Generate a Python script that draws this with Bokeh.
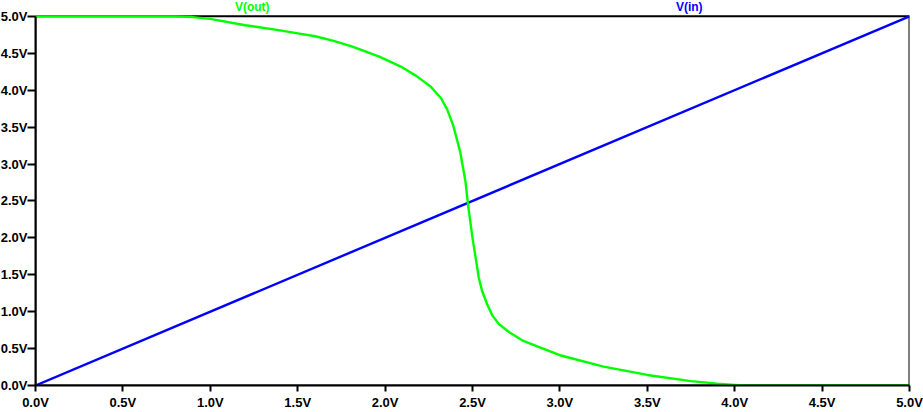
from bokeh.plotting import figure
from bokeh.models import Range1d, FixedTicker, PrintfTickFormatter, BoxAnnotation, ColumnDataSource
from bokeh.core.properties import value
from bokeh.embed import file_html
from bokeh.resources import INLINE

# Data (DC sweep of an inverter)
vin_sweep = [0.0, 5.0]
vin_values = [0.0, 5.0]

vout_x = [0.0, 0.5, 0.8, 0.9, 1.0, 1.2, 1.4, 1.5, 1.6, 1.7, 1.8, 1.86, 1.97,
          2.09, 2.18, 2.26, 2.32, 2.355, 2.39, 2.43, 2.46, 2.475, 2.50, 2.536,
          2.555, 2.584, 2.613, 2.65, 2.708, 2.784, 2.87, 3.0, 3.25, 3.5, 3.75,
          3.9, 4.0, 4.05, 4.5, 5.0]
vout_y = [5.0, 5.0, 5.0, 4.99, 4.965, 4.88, 4.81, 4.77, 4.73, 4.67, 4.60, 4.55,
          4.45, 4.32, 4.19, 4.05, 3.89, 3.74, 3.52, 3.16, 2.76, 2.44, 2.0,
          1.46, 1.28, 1.10, 0.95, 0.835, 0.724, 0.612, 0.53, 0.41, 0.255,
          0.143, 0.06, 0.025, 0.008, 0.0, 0.0, 0.0]

tick_values = [0.0, 0.5, 1.0, 1.5, 2.0, 2.5, 3.0, 3.5, 4.0, 4.5, 5.0]
axis_min = 0.0
axis_max = 5.0
trace_names = ["V(out)", "V(in)"]
trace_label_x = [1.24, 3.74]
trace_colors = ["#00ff00", "#0000ff"]

# extra headroom above the 5.0V frame line so that the trace names fit
headroom = 16 / 74.6

p = figure(width=926, height=412, output_backend="svg", toolbar_location=None,
           x_range=Range1d(axis_min, axis_max),
           y_range=Range1d(axis_min, axis_max + headroom),
           min_border_left=35, min_border_right=14, min_border_top=0,
           min_border_bottom=23)
p.styles = {"position": "absolute", "left": "-3px", "top": "0px"}
p.background_fill_color = "white"
p.border_fill_color = "white"
p.grid.visible = False
p.outline_line_color = None

for ax in (p.xaxis[0], p.yaxis[0]):
    ax.ticker = FixedTicker(ticks=tick_values)
    ax.formatter = PrintfTickFormatter(format="%.1fV")
    ax.bounds = (axis_min, axis_max)
    ax.axis_line_color = "black"
    ax.axis_line_width = 2
    ax.major_tick_line_color = "black"
    ax.major_tick_line_width = 2
    ax.minor_tick_line_color = None
    ax.major_tick_in = 0
    ax.major_label_text_font = "Liberation Sans"
    ax.major_label_text_font_style = "bold"
    ax.major_label_text_font_size = "13px"
    ax.major_label_text_color = "black"

p.xaxis[0].major_tick_out = 6
p.xaxis[0].major_label_standoff = 3
p.yaxis[0].major_tick_out = 8
p.yaxis[0].major_label_standoff = 0

# plot frame box from 0..5 V on both axes
p.add_layout(BoxAnnotation(left=axis_min, right=axis_max, bottom=axis_min, top=axis_max,
                           fill_alpha=0, line_color="black", line_alpha=1.0,
                           line_width=2, level="underlay"))

p.line(vin_sweep, vin_values, line_color=trace_colors[1], line_width=2.4)
p.line(vout_x, vout_y, line_color=trace_colors[0], line_width=2.4,
       line_join="round")

names_src = ColumnDataSource(dict(x=trace_label_x, y=[axis_max] * len(trace_names),
                                  text=trace_names, color=trace_colors))
p.text(x="x", y="y", text="text", text_color="color", source=names_src,
       y_offset=-9, text_font=value("Liberation Sans"), text_font_style="bold",
       text_font_size="12px", text_align="center", text_baseline="middle")

open("out.html", "w").write(file_html(p, INLINE))
